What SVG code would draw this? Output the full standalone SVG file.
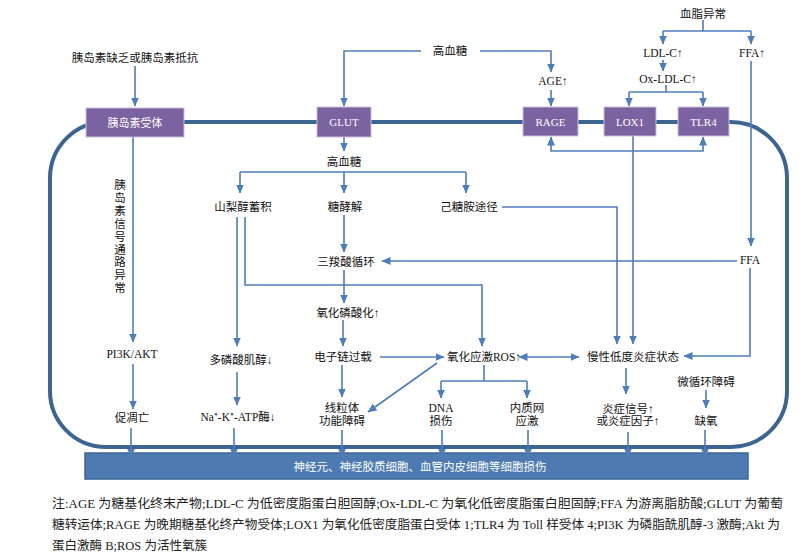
<svg xmlns="http://www.w3.org/2000/svg" width="807" height="555" viewBox="0 0 807 555">
<style>
.t{font-family:"Liberation Serif","Noto Sans CJK SC",serif;font-size:11.5px;fill:#111;text-anchor:middle}
.bt{font-family:"Liberation Serif","Noto Sans CJK SC",serif;font-size:11px;fill:#fff;text-anchor:middle}
.box{fill:#7b62a0;stroke:#c9bedc;stroke-width:1}
.c{fill:none;stroke:#4f7db8;stroke-width:1.6}
.n{font-family:"Liberation Serif","Noto Sans CJK SC",serif;font-size:12.5px;fill:#222}
</style>
<defs>
<marker id="a" markerUnits="userSpaceOnUse" markerWidth="9" markerHeight="8" refX="8.5" refY="4" orient="auto-start-reverse"><path d="M0,0 L9,4 L0,8 z" fill="#4f7db8"/></marker>
</defs>
<rect width="807" height="555" fill="#fff"/>
<rect x="50" y="122" width="737" height="325" rx="56" ry="56" fill="none" stroke="#3d6592" stroke-width="4"/>

<g id="bar"><rect x="85" y="453" width="663" height="26" fill="#4d7bb1" stroke="#3d6592" stroke-width="1.5"/><text class="bt" x="420" y="471" style="font-size:11.5px">神经元、神经胶质细胞、血管内皮细胞等细胞损伤</text></g>

<g id="connectors">
<path class="c" marker-end="url(#a)" d="M135,66 V106"/>
<path class="c" marker-end="url(#a)" d="M421,51 H344 V106"/>
<path class="c" marker-end="url(#a)" d="M480,51 H551 V72"/>
<path class="c" marker-end="url(#a)" d="M551,90 V106"/>
<path class="c" d="M703,20 V31 M663,31 H751"/>
<path class="c" marker-end="url(#a)" d="M663,31 V44"/>
<path class="c" marker-end="url(#a)" d="M751,31 V44"/>
<path class="c" marker-end="url(#a)" d="M663,60 V71"/>
<path class="c" d="M666,85 V92 M629,92 H703"/>
<path class="c" marker-end="url(#a)" d="M629,92 V106"/>
<path class="c" marker-end="url(#a)" d="M703,92 V106"/>
<path class="c" marker-end="url(#a)" d="M751,61 V246"/>
<path class="c" marker-end="url(#a)" d="M737,261 H382"/>
<path class="c" marker-end="url(#a)" d="M750,268 V356 H684"/>
<path class="c" marker-start="url(#a)" marker-end="url(#a)" d="M551,137 V151 H703 V137"/>
<path class="c" marker-end="url(#a)" d="M633,136 V344"/>
<path class="c" marker-end="url(#a)" d="M502,207 H617 V344"/>
<path class="c" marker-end="url(#a)" d="M344,137 V151"/>
<path class="c" d="M240,172 H466"/>
<path class="c" marker-end="url(#a)" d="M240,172 V193"/>
<path class="c" marker-end="url(#a)" d="M344,172 V193"/>
<path class="c" marker-end="url(#a)" d="M466,172 V193"/>
<path class="c" marker-end="url(#a)" d="M344,215 V252"/>
<path class="c" marker-end="url(#a)" d="M344,270 V303"/>
<path class="c" marker-end="url(#a)" d="M343,320 V346"/>
<path class="c" marker-end="url(#a)" d="M237,217 V346"/>
<path class="c" marker-end="url(#a)" d="M245,217 V285 H482 V346"/>
<path class="c" marker-end="url(#a)" d="M380,357 H444"/>
<path class="c" marker-start="url(#a)" marker-end="url(#a)" d="M519,357 H579"/>
<path class="c" d="M484,365 V381 M441,381 H527"/>
<path class="c" marker-end="url(#a)" d="M441,381 V398"/>
<path class="c" marker-end="url(#a)" d="M527,381 V398"/>
<path class="c" marker-end="url(#a)" d="M437,363 L368,412"/>
<path class="c" marker-end="url(#a)" d="M342,365 V397"/>
<path class="c" marker-end="url(#a)" d="M626,368 V394"/>
<path class="c" marker-end="url(#a)" d="M706,390 V408"/>
<path class="c" marker-end="url(#a)" d="M133,137 V342"/>
<path class="c" marker-end="url(#a)" d="M133,364 V409"/>
<path class="c" marker-end="url(#a)" d="M237,372 V405"/>
<path class="c" marker-end="url(#a)" d="M131,428 V457"/>
<path class="c" marker-end="url(#a)" d="M234,428 V457"/>
<path class="c" marker-end="url(#a)" d="M342,430 V457"/>
<path class="c" marker-end="url(#a)" d="M442,430 V457"/>
<path class="c" marker-end="url(#a)" d="M528,430 V457"/>
<path class="c" marker-end="url(#a)" d="M628,432 V457"/>
<path class="c" marker-end="url(#a)" d="M705,430 V457"/>
</g>

<g id="receptor"><rect class="box" x="86" y="108" width="98" height="29"/><text class="bt" x="135" y="126.5">胰岛素受体</text></g>
<g id="glut"><rect class="box" x="317" y="107" width="54" height="30"/><text class="bt" x="344" y="126">GLUT</text></g>
<g id="rage"><rect class="box" x="523" y="107" width="55" height="29"/><text class="bt" x="550.5" y="125.5">RAGE</text></g>
<g id="lox1"><rect class="box" x="604" y="107" width="52" height="29"/><text class="bt" x="630" y="125.5">LOX1</text></g>
<g id="tlr4"><rect class="box" x="678" y="107" width="51" height="29"/><text class="bt" x="703.5" y="125.5">TLR4</text></g>

<g id="insulin-lack"><text class="t" x="135" y="62">胰岛素缺乏或胰岛素抵抗</text></g>
<g id="hg-top"><text class="t" x="450" y="55">高血糖</text></g>
<g id="age"><text class="t" x="553" y="85">AGE↑</text></g>
<g id="dyslipidemia"><text class="t" x="703" y="18">血脂异常</text></g>
<g id="ldl"><text class="t" x="663" y="57">LDL-C↑</text></g>
<g id="ffa-up"><text class="t" x="752" y="57">FFA↑</text></g>
<g id="oxldl"><text class="t" x="668" y="83">Ox-LDL-C↑</text></g>
<g id="hg-mid"><text class="t" x="344" y="166">高血糖</text></g>
<g id="sorbitol"><text class="t" x="243" y="211">山梨醇蓄积</text></g>
<g id="glycolysis"><text class="t" x="345" y="211">糖酵解</text></g>
<g id="hexosamine"><text class="t" x="469" y="211">己糖胺途径</text></g>
<g id="tca"><text class="t" x="346" y="266">三羧酸循环</text></g>
<g id="ffa"><text class="t" x="750" y="264">FFA</text></g>
<g id="oxphos"><text class="t" x="348" y="317">氧化磷酸化↑</text></g>
<g id="signal"><text class="t" x="120" y="189"><tspan x="120">胰</tspan><tspan x="120" dy="12.9">岛</tspan><tspan x="120" dy="12.9">素</tspan><tspan x="120" dy="12.9">信</tspan><tspan x="120" dy="12.9">号</tspan><tspan x="120" dy="12.9">通</tspan><tspan x="120" dy="12.9">路</tspan><tspan x="120" dy="12.9">异</tspan><tspan x="120" dy="12.9">常</tspan></text></g>
<g id="pi3k"><text class="t" x="132" y="358">PI3K/AKT</text></g>
<g id="inositol"><text class="t" x="241" y="364">多磷酸肌醇↓</text></g>
<g id="etc"><text class="t" x="343" y="361">电子链过载</text></g>
<g id="ros"><text class="t" x="484" y="361">氧化应激ROS↑</text></g>
<g id="inflam"><text class="t" x="633" y="361">慢性低度炎症状态</text></g>
<g id="apoptosis"><text class="t" x="132" y="422">促凋亡</text></g>
<g id="atpase"><text class="t" x="238" y="421">Na⁺-K⁺-ATP酶↓</text></g>
<g id="mito"><text class="t" x="342" y="412">线粒体</text><text class="t" x="342" y="425">功能障碍</text></g>
<g id="dna"><text class="t" x="441" y="412">DNA</text><text class="t" x="441" y="425">损伤</text></g>
<g id="er"><text class="t" x="527" y="412">内质网</text><text class="t" x="527" y="425">应激</text></g>
<g id="signal-up"><text class="t" x="628" y="413">炎症信号↑</text><text class="t" x="628" y="425">或炎症因子↑</text></g>
<g id="micro"><text class="t" x="706" y="386">微循环障碍</text></g>
<g id="hypoxia"><text class="t" x="706" y="425">缺氧</text></g>

<g id="notes">
<text class="n" x="52" y="508" textLength="731" lengthAdjust="spacingAndGlyphs">注:AGE 为糖基化终末产物;LDL-C 为低密度脂蛋白胆固醇;Ox-LDL-C 为氧化低密度脂蛋白胆固醇;FFA 为游离脂肪酸;GLUT 为葡萄</text>
<text class="n" x="52" y="529" textLength="728" lengthAdjust="spacingAndGlyphs">糖转运体;RAGE 为晚期糖基化终产物受体;LOX1 为氧化低密度脂蛋白受体 1;TLR4 为 Toll 样受体 4;PI3K 为磷脂酰肌醇-3 激酶;Akt 为</text>
<text class="n" x="52" y="550" textLength="155" lengthAdjust="spacingAndGlyphs">蛋白激酶 B;ROS 为活性氧簇</text>
</g>
</svg>
